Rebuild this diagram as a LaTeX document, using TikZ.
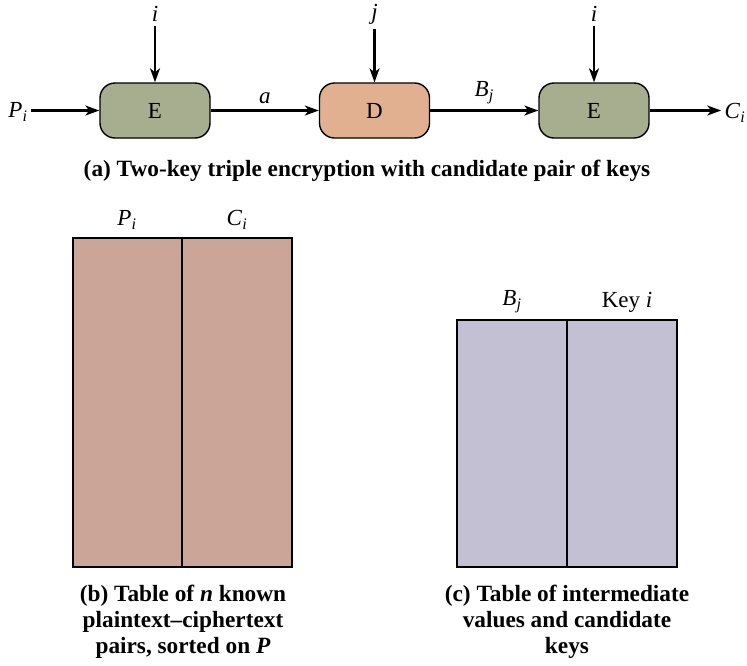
\documentclass[tikz,border=0pt]{standalone}
\usepackage{fontspec}
\setmainfont{Liberation Serif}
\usetikzlibrary{positioning, calc, arrows.meta}
\definecolor{encgreen}{HTML}{A7AE90}
\definecolor{decorange}{HTML}{E0B090}
\definecolor{tabred}{HTML}{CBA698}
\definecolor{tabblue}{HTML}{C4C0D4}
\newcommand{\vsub}[2]{\textit{#1}\textsubscript{\textit{#2}}}

\begin{document}
\begin{tikzpicture}[x=1pt,y=-1pt,
    cipher/.style={draw, line width=1.4pt, rounded corners=15pt, minimum width=110pt, minimum height=55pt, font=\fontsize{23}{23}\selectfont},
    flow/.style={line width=2.3pt, -{Stealth[length=14pt,width=10pt,inset=4pt]}},
    lbl/.style={font=\fontsize{23}{23}\selectfont},
    captxt/.style={font=\fontsize{23.3}{26}\selectfont\bfseries, align=center},
    tab/.style={draw, line width=1.2pt}]
    \useasboundingbox (0,0) rectangle (747,665);
    %blocchi cifratura
    \node[cipher, fill=encgreen] (enc1) at (155,110.5) {E};
    \node[cipher, fill=decorange] (dec) at (374.5,110.5) {D};
    \node[cipher, fill=encgreen] (enc2) at (594,110.5) {E};
    %chiavi
    \node[lbl] (k1) at (155,14) {\textit{i}};
    \node[lbl] (k2) at (374.5,14) {\textit{j}};
    \node[lbl] (k3) at (594,14) {\textit{i}};
    \draw[flow] (k1.south) ++(0,1) -- (enc1.north);
    \draw[flow] (k2.south) ++(0,1) -- (dec.north);
    \draw[flow] (k3.south) ++(0,1) -- (enc2.north);
    %ingresso e uscita
    \node[lbl] (pin) at (18,112) {\vsub{P}{i}};
    \node[lbl] (cout) at (735,113) {\vsub{C}{i}};
    \draw[flow] (pin.east |- enc1.west) -- (enc1.west);
    \draw[flow] (enc1.east) -- node[lbl, above=2pt] {\textit{a}} (dec.west);
    \draw[flow] (dec.east) -- node[lbl, above=2pt] {\vsub{B}{j}} (enc2.west);
    \draw[flow] (enc2.east) -- (cout.west |- enc2.east);
    \node[captxt] (capa) at (367,171) {(a) Two-key triple encryption with candidate pair of keys};

    %tabella b
    \draw[tab, fill=tabred] (73,238) rectangle (292,567);
    \draw[tab] (182,238) -- (182,567);
    \node[lbl] (hp) at (127,220) {\vsub{P}{i}};
    \node[lbl] (hc) at (237,220) {\vsub{C}{i}};
    \node[captxt] (capb) at (183,622) {(b) Table of \textit{n} known\\plaintext–ciphertext\\pairs, sorted on \textit{P}};

    %tabella c
    \draw[tab, fill=tabblue] (457,320) rectangle (677,567);
    \draw[tab] (567,320) -- (567,567);
    \node[lbl] (hb) at (512,302) {\vsub{B}{j}};
    \node[lbl] (hk) at (627,302) {Key \textit{i}};
    \node[captxt] (capc) at (567,622) {(c) Table of intermediate\\values and candidate\\keys};
\end{tikzpicture}
\end{document}
